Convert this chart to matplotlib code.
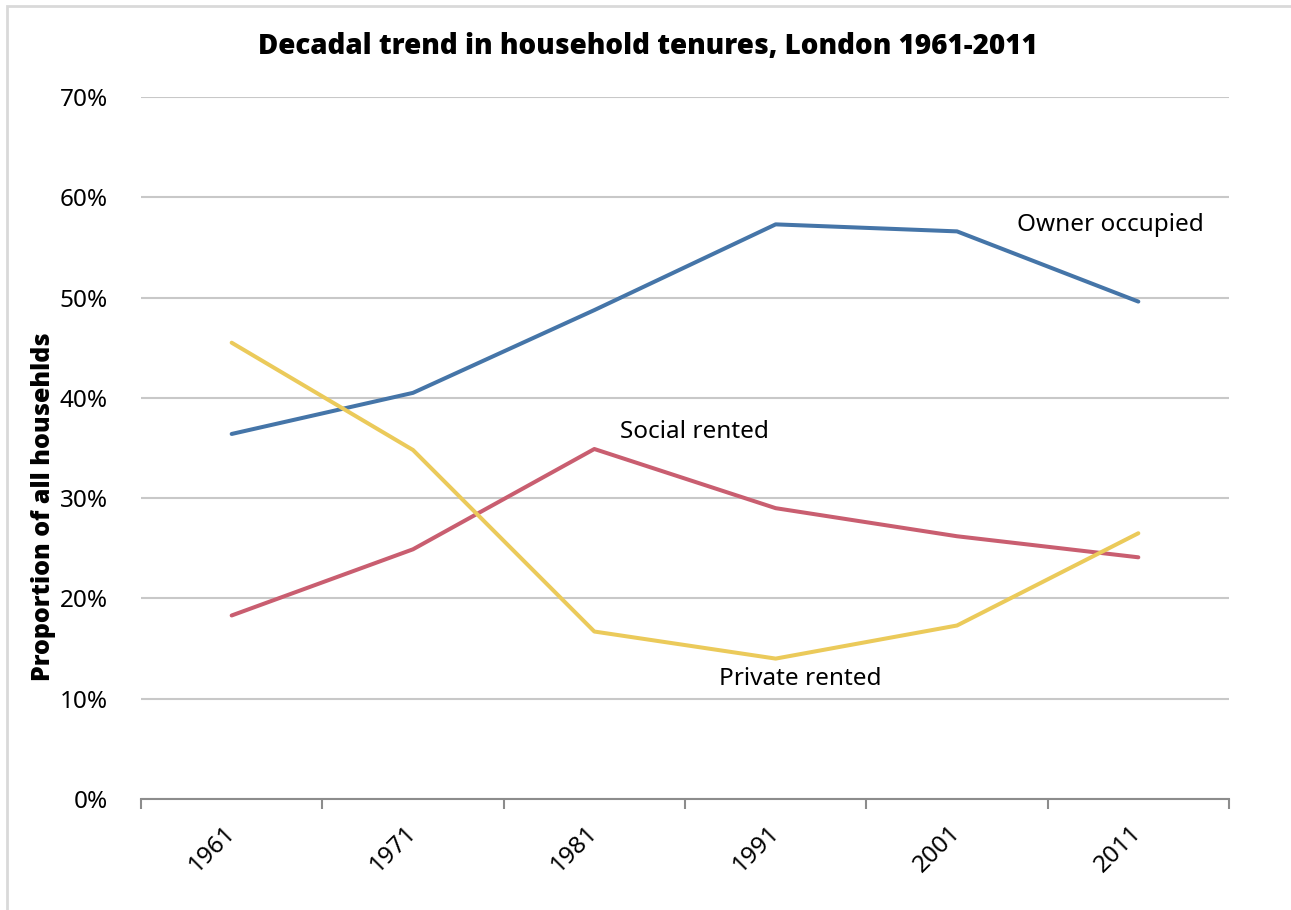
import matplotlib.pyplot as plt
from matplotlib.patches import Rectangle
from matplotlib.ticker import PercentFormatter, FixedLocator

plt.rcParams['font.family'] = ['Noto Sans', 'DejaVu Sans']

years = ['1961', '1971', '1981', '1991', '2001', '2011']
owner_occupied = [36.4, 40.5, 48.75, 57.3, 56.6, 49.6]
social_rented = [18.3, 24.9, 34.9, 29.0, 26.2, 24.1]
private_rented = [45.5, 34.8, 16.7, 14.0, 17.3, 26.5]

fig = plt.figure(figsize=(12.91, 9.10), dpi=100)
ax = fig.add_axes([141 / 1291, 1 - 799 / 910, (1229 - 141) / 1291, (799 - 97) / 910])

# chart frame
fig.patches.append(Rectangle((7 / 1291, -0.1), 1.2, 1 - 6 / 910 + 0.1, transform=fig.transFigure,
                             fill=False, edgecolor='#d9d9d9', linewidth=2))

x = range(len(years))
ax.plot(x, owner_occupied, color='#4575a8', linewidth=2.9, solid_capstyle='round')
ax.plot(x, social_rented, color='#c95e70', linewidth=2.9, solid_capstyle='round')
ax.plot(x, private_rented, color='#ebca5a', linewidth=2.9, solid_capstyle='round')

ax.text(4.33, 57.2, 'Owner occupied', fontsize=17.5, va='center', ha='left')
ax.text(2.14, 36.6, 'Social rented', fontsize=17.5, va='center', ha='left')
ax.text(2.69, 12.0, 'Private rented', fontsize=17.5, va='center', ha='left')

ax.set_xlim(-0.5, 5.5)
ax.set_ylim(0, 70)
ax.set_yticks(range(0, 71, 10))
ax.yaxis.set_major_formatter(PercentFormatter(decimals=0))
ax.grid(axis='y', color='#c8c8c8', linewidth=1.5)
ax.set_axisbelow(True)

ax.set_xticks(list(x))
ax.set_xticklabels(years, rotation=45, ha='right', va='center', rotation_mode='anchor')
ax.xaxis.set_minor_locator(FixedLocator([i - 0.5 for i in range(len(years) + 1)]))
ax.tick_params(axis='x', which='major', length=0, pad=22, labelsize=17.5)
ax.tick_params(axis='x', which='minor', length=7, width=1.5, color='#8c8c8c', direction='out')
ax.tick_params(axis='y', length=0, pad=24, labelsize=17.5)

for s in ['top', 'right', 'left']:
    ax.spines[s].set_visible(False)
ax.spines['bottom'].set_color('#8c8c8c')
ax.spines['bottom'].set_linewidth(1.5)

fig.text(44 / 1291, 1 - 507 / 910, 'Proportion of all househlds', rotation=90,
         fontsize=18, fontweight=800, family=['Open Sans', 'DejaVu Sans'],
         ha='center', va='center')
fig.text(648 / 1291, 1 - 46 / 910, 'Decadal trend in household tenures, London 1961-2011',
         fontsize=20, fontweight=800, family=['Open Sans', 'DejaVu Sans'],
         ha='center', va='center')

fig.savefig('out.png', dpi=100)
